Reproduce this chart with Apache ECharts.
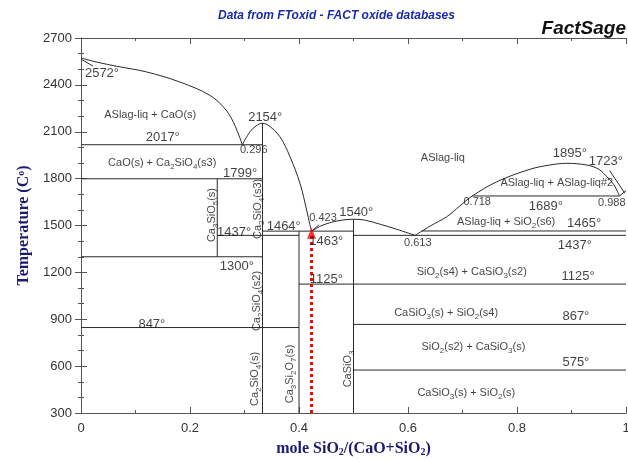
<!DOCTYPE html>
<html><head><meta charset="utf-8">
<script src="https://cdn.jsdelivr.net/npm/echarts/dist/echarts.min.js"></script>
<style>html,body{margin:0;padding:0;background:#fff}#c{width:628px;height:460px}</style>
</head><body><div id="c"></div>
<script>
// ---- data (x = mole SiO2/(CaO+SiO2), T = °C) ----
const xTickLabels = ['0', '0.2', '0.4', '0.6', '0.8', '1'];
const yTickLabels = [300, 600, 900, 1200, 1500, 1800, 2100, 2400, 2700];
const liqCaO = [[0,2572],[0.03,2545],[0.066,2519],[0.12,2483],[0.18,2420],[0.237,2332],[0.267,2235],[0.283,2135],[0.296,2017]];
const liqC2S = [[0.296,2017],[0.31,2100],[0.322,2140],[0.333,2154],[0.345,2138],[0.365,2068],[0.3835,1940],[0.4018,1770],[0.414,1599],[0.42,1505],[0.423,1463]];
const liqCS = [[0.423,1463],[0.44,1497],[0.46,1521],[0.48,1535],[0.5,1540],[0.52,1535],[0.549,1508],[0.58,1475],[0.613,1437]];
const liqSiO2 = [[0.613,1437],[0.64,1495],[0.671,1556],[0.695,1625],[0.718,1689],[0.763,1780],[0.824,1860],[0.86,1887],[0.891,1898],[0.928,1887],[0.95,1860],[0.965,1812],[0.978,1760],[0.988,1689]];
const liqCrist = [[0.988,1689],[1,1723]];
const isotherms = [[0,0.333,2017],[0,0.333,1799],[0.25,0.4,1437],[0,0.333,1300],[0,0.4,847],[0.333,0.5,1464],[0.4,1,1125],[0.5,1,1437],[0.625,1,1465],[0.718,0.988,1689],[0.5,1,867],[0.5,1,575]];
const compounds = [[0.25,1300,1799],[0.333,300,2154],[0.4,300,1464],[0.5,300,1540]];
const leaders = [[[0,2565],[0.022,2520]],[[0.423,1463],[0.437,1505]],[[0.97,1851],[0.998,1706]]];
const markerX = 0.423, markerTop = 1463, markerBottom = 300;
const labels = [
  [0.127,2207,'ASlag-liq + CaO(s)','phase'],
  [0.150,2066,'2017°','num'],
  [0.0385,2474,'2572°','num'],
  [0.338,2194,'2154°','num'],
  [0.317,1981,'0.296','comp'],
  [0.149,1900,'CaO(s) + Ca_2SiO_4(s3)','phase'],
  [0.292,1836,'1799°','num'],
  [0.2394,1567,'Ca_3SiO_5(s)','vphase'],
  [0.324,1606,'Ca_2SiO_4(s3)','vphase'],
  [0.281,1458,'1437°','num'],
  [0.286,1241,'1300°','num'],
  [0.372,1497,'1464°','num'],
  [0.444,1548,'0.423','comp'],
  [0.505,1586,'1540°','num'],
  [0.45,1401,'1463°','num'],
  [0.45,1158,'1125°','num'],
  [0.322,1017,'Ca_2SiO_4(s2)','vphase'],
  [0.13,870,'847°','num'],
  [0.319,518,'Ca_2SiO_4(s)','vphase'],
  [0.383,550,'Ca_3Si_2O_7(s)','vphase'],
  [0.489,582,'CaSiO_3','vphase'],
  [0.664,1932,'ASlag-liq','phase'],
  [0.897,1964,'1895°','num'],
  [0.963,1913,'1723°','num'],
  [0.873,1772,'ASlag-liq + ASlag-liq#2','phase'],
  [0.727,1650,'0.718','comp'],
  [0.853,1625,'1689°','num'],
  [0.974,1644,'0.988','comp'],
  [0.78,1522,'ASlag-liq + SiO_2(s6)','phase'],
  [0.923,1516,'1465°','num'],
  [0.618,1388,'0.613','comp'],
  [0.906,1375,'1437°','num'],
  [0.717,1202,'SiO_2(s4) + CaSiO_3(s2)','phase'],
  [0.912,1177,'1125°','num'],
  [0.67,940,'CaSiO_3(s) + SiO_2(s4)','phase'],
  [0.908,921,'867°','num'],
  [0.72,722,'SiO_2(s2) + CaSiO_3(s)','phase'],
  [0.908,626,'575°','num'],
  [0.707,428,'CaSiO_3(s) + SiO_2(s)','phase']
];

// ---- chart ----
const SANS = 'Liberation Sans, Arial, sans-serif';
const SERIF = 'Liberation Serif, Times New Roman, serif';
const LINE = '#2a2a2a';
const NAVY = '#1c1c6e';
const fmt = t => t.replace(/_(\d)/g, '{s|$1}');

const series = [];
function addLine(data, smooth, style) {
  series.push({type:'line', data, smooth: smooth, showSymbol:false, symbol:'none', silent:true,
    animation:false, clip:false, xAxisIndex:0, yAxisIndex:0,
    lineStyle: Object.assign({color:LINE, width:1}, style||{})});
}
[liqCaO, liqC2S, liqCS, liqSiO2].forEach(d => addLine(d, 0.35));
addLine(liqCrist, false);
isotherms.forEach(([a,b,t]) => addLine([[a,t],[b,t]], false));
compounds.forEach(([x,t1,t2]) => addLine([[x,t1],[x,t2]], false));
leaders.forEach(d => addLine(d, false));
addLine([[markerX, markerBottom],[markerX, markerTop-25]], false, {color:'#ff0000', width:3, type:[3,3], cap:'butt'});
series.push({type:'scatter', data:[[markerX, markerTop-12]], symbol:'triangle', symbolSize:[9,11],
  itemStyle:{color:'#ff0000'}, silent:true, animation:false, z:5});

const kinds = {
  num:   {fontSize:13, rotate:0},
  comp:  {fontSize:11, rotate:0},
  phase: {fontSize:11, rotate:0},
  vphase:{fontSize:11, rotate:90}
};
series.push({
  type:'scatter', symbolSize:0, silent:true, animation:false, z:10,
  data: labels.map(([x,t,txt,k]) => ({
    value:[x,t],
    label:{show:true, position:'inside', formatter: fmt(txt), rotate: kinds[k].rotate,
      fontSize: kinds[k].fontSize, fontFamily: SANS, color:'#111', lineHeight:16,
      rich:{s:{fontSize:8, fontFamily:SANS, color:'#111', verticalAlign:'bottom', lineHeight:8}}}
  }))
});

const tickBase = {
  axisLine:{show:true, lineStyle:{color:'#555', width:1}},
  axisTick:{show:true, inside:true, length:6, lineStyle:{color:'#555'}},
  splitLine:{show:false}
};
const chart = echarts.init(document.getElementById('c'), null, {renderer:'canvas'});
chart.setOption({
  backgroundColor:'#fff',
  animation:false,
  grid:{left:81, right:2, top:38, bottom:47, containLabel:false, outerBoundsMode:'none'},
  xAxis:[
    Object.assign({type:'value', min:0, max:1, interval:0.2, position:'bottom',
      minorTick:{show:true, splitNumber:2, length:3, lineStyle:{color:'#555'}},
      axisLabel:{margin:9, fontSize:13, fontFamily:SANS, color:'#333',
        formatter: v => xTickLabels[Math.round(v/0.2)]},
      name:'mole SiO{s|2}/(CaO+SiO{s|2})', nameLocation:'middle', nameGap:28,
      nameTextStyle:{fontFamily:SERIF, fontWeight:'bold', fontSize:16, color:NAVY,
        rich:{s:{fontFamily:SERIF, fontWeight:'bold', fontSize:10, color:NAVY, verticalAlign:'bottom', lineHeight:10}}}
    }, tickBase),
    Object.assign({type:'value', min:0, max:1, interval:0.2, position:'top',
      minorTick:{show:true, splitNumber:2, length:3, lineStyle:{color:'#555'}},
      axisLabel:{show:false}}, tickBase)
  ],
  yAxis:[
    Object.assign({type:'value', min:300, max:2700, interval:300, position:'left',
      minorTick:{show:true, splitNumber:3, length:3, lineStyle:{color:'#555'}},
      axisLabel:{margin:9, fontSize:13, fontFamily:SANS, color:'#333',
        formatter: v => String(yTickLabels[Math.round((v-300)/300)])},
      name:'Temperature (C{o|o})', nameLocation:'middle', nameGap:44, nameRotate:90,
      nameTextStyle:{fontFamily:SERIF, fontWeight:'bold', fontSize:16, color:NAVY,
        rich:{o:{fontFamily:SERIF, fontWeight:'bold', fontSize:10, color:NAVY, verticalAlign:'top', lineHeight:10}}}
    }, tickBase),
    Object.assign({type:'value', min:300, max:2700, interval:300, position:'right',
      minorTick:{show:true, splitNumber:3, length:3, lineStyle:{color:'#555'}},
      axisLabel:{show:false}}, tickBase)
  ],
  graphic:[
    {type:'text', left:218, top:10, style:{text:'Data from FToxid - FACT oxide databases',
      font:'italic bold 12px ' + SANS, fill:'#1a2aa8'}},
    {type:'text', right:2, top:19, style:{text:'FactSage', font:'italic bold 19px ' + SANS, fill:'#111'}}
  ],
  series
});
</script></body></html>
